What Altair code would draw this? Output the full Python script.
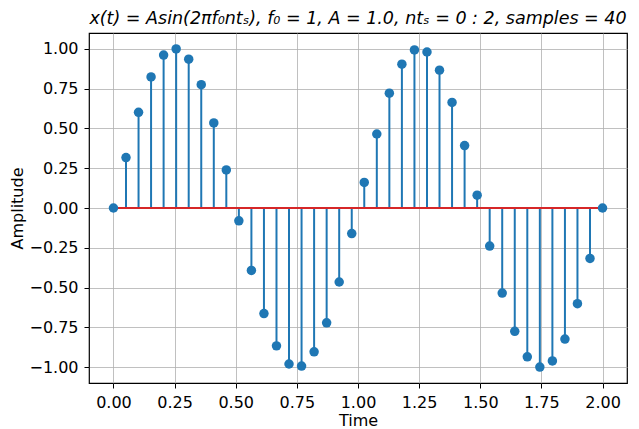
import altair as alt
import pandas as pd

times = [0.0, 0.0513, 0.1026, 0.1538, 0.2051, 0.2564, 0.3077, 0.3590, 0.4103, 0.4615,
         0.5128, 0.5641, 0.6154, 0.6667, 0.7179, 0.7692, 0.8205, 0.8718, 0.9231, 0.9744,
         1.0256, 1.0769, 1.1282, 1.1795, 1.2308, 1.2821, 1.3333, 1.3846, 1.4359, 1.4872,
         1.5385, 1.5897, 1.6410, 1.6923, 1.7436, 1.7949, 1.8462, 1.8974, 1.9487, 2.0]
amplitudes = [0.0, 0.3167, 0.6008, 0.8230, 0.9605, 0.9992, 0.9350, 0.7746, 0.5345, 0.2393,
              -0.0805, -0.3920, -0.6631, -0.8660, -0.9798, -0.9927, -0.9034, -0.7212, -0.4647, -0.1604,
              0.1604, 0.4647, 0.7212, 0.9034, 0.9927, 0.9798, 0.8660, 0.6631, 0.3920, 0.0805,
              -0.2393, -0.5345, -0.7746, -0.9350, -0.9992, -0.9605, -0.8230, -0.6008, -0.3167, 0.0]
x_ticks = [0.0, 0.25, 0.5, 0.75, 1.0, 1.25, 1.5, 1.75, 2.0]
y_ticks = [-1.0, -0.75, -0.5, -0.25, 0.0, 0.25, 0.5, 0.75, 1.0]
baseline_x = [0.0, 2.0]
baseline_y = [0.0, 0.0]

df = pd.DataFrame({"t": times, "a": amplitudes, "zero": [0.0] * len(times)})
base_df = pd.DataFrame({"t": baseline_x, "a": baseline_y})

FONT = "DejaVu Sans"

xscale = alt.Scale(domain=[-0.1, 2.1], nice=False, zero=False)
yscale = alt.Scale(domain=[-1.0992, 1.0992], nice=False, zero=False)

xaxis = alt.Axis(values=x_ticks, format=".2f", title="Time", grid=True)
yaxis = alt.Axis(values=y_ticks, format=".2f", title="Amplitude", grid=True)

stems = alt.Chart(df).mark_rule(color="#1f77b4", strokeWidth=2).encode(
    x=alt.X("t:Q", scale=xscale, axis=xaxis),
    y=alt.Y("zero:Q", scale=yscale, axis=yaxis),
    y2="a:Q",
)

baseline = alt.Chart(base_df).mark_line(color="#d62728", strokeWidth=2).encode(
    x=alt.X("t:Q", scale=xscale),
    y=alt.Y("a:Q", scale=yscale),
)

points = alt.Chart(df).mark_circle(color="#1f77b4", size=90, opacity=1).encode(
    x=alt.X("t:Q", scale=xscale),
    y=alt.Y("a:Q", scale=yscale),
)

title_text = "x(t) = Asin(2πf₀ntₛ), f₀ = 1, A = 1.0, ntₛ = 0 : 2, samples = 40"

chart = alt.layer(stems, baseline, points).properties(
    width=538,
    height=350,
    title=alt.TitleParams(text=title_text, font=FONT, fontSize=17.5, fontStyle="italic",
                          fontWeight="normal", color="black", offset=6, anchor="middle"),
    autosize=alt.AutoSizeParams(type="none"),
    padding={"left": 81, "top": 25, "right": 4, "bottom": 46},
).configure_view(
    stroke="black", strokeWidth=1.2
).configure_axis(
    labelFont=FONT, titleFont=FONT, labelFontSize=16, titleFontSize=16,
    labelColor="black", titleColor="black", titleFontWeight="normal",
    gridColor="#b0b0b0", gridWidth=0.8, gridOpacity=1,
    tickColor="black", tickSize=5, tickWidth=1,
    domain=False, labelPadding=6,
).configure_axisX(
    titlePadding=2,
).configure_axisY(
    titlePadding=3,
)

chart.save("out.html", embed_options={"renderer": "svg", "actions": False})
